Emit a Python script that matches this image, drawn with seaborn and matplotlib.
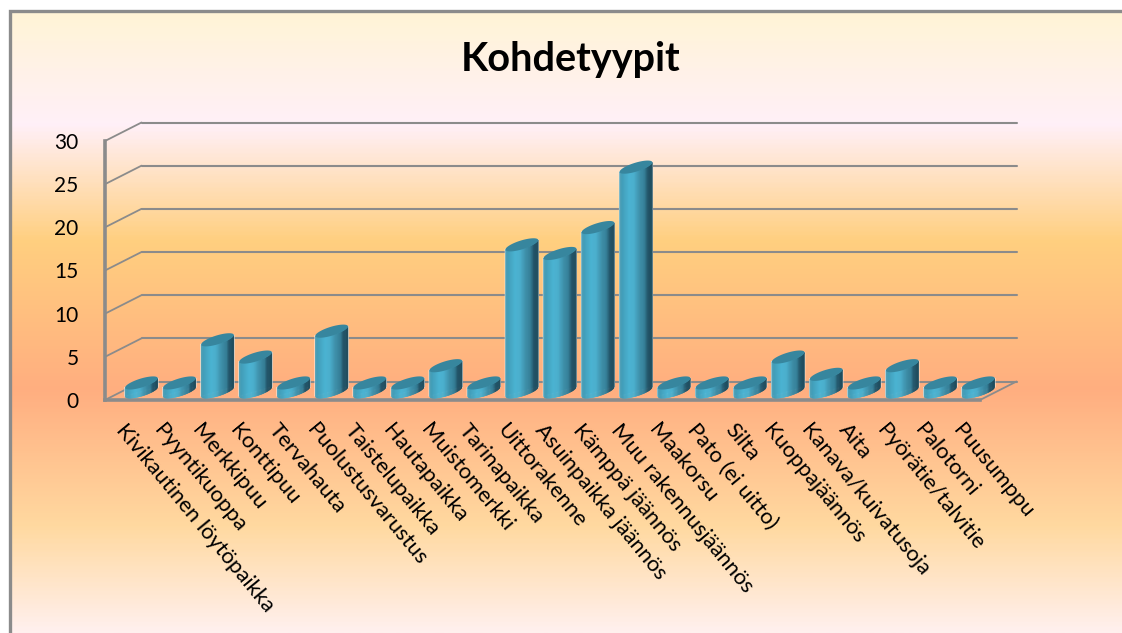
#!/usr/bin/env python3

import matplotlib
matplotlib.use('Agg')
import matplotlib.pyplot as plt
import matplotlib.transforms as mtrans
import numpy as np
import seaborn as sns
from matplotlib.collections import PolyCollection
from matplotlib.colors import LinearSegmentedColormap
from matplotlib.patches import Polygon

CATEGORIES = ['Kivikautinen löytöpaikka', 'Pyyntikuoppa', 'Merkkipuu', 'Konttipuu',
              'Tervahauta', 'Puolustusvarustus', 'Taistelupaikka', 'Hautapaikka',
              'Muistomerkki', 'Tarinapaikka', 'Uittorakenne', 'Asuinpaikka jäännös',
              'Kämppä jäännös', 'Muu rakennusjäännös', 'Maakorsu', 'Pato (ei uitto)',
              'Silta', 'Kuoppajäännös', 'Kanava/kuivatusoja', 'Aita',
              'Pyörätie/talvitie', 'Palotorni', 'Puusumppu']
COUNTS = [1, 1, 6, 4, 1, 7, 1, 1, 3, 1, 17, 16, 19, 26, 1, 1, 1, 4, 2, 1, 3, 1, 1]
YTICKS = [0, 5, 10, 15, 20, 25, 30]
TITLE = 'Kohdetyypit'

W, H = 1122, 633
GREY = '#8b8b8b'
TOP_FACE = '#37869e'

# Pixel sizes of the fake 3D look
DEPTH = (36.5, 18.5)
BAR_SHIFT = (17.4, 8.4)
LENS_RISE = 4.7
LENS_BULGE = 4.6

sns.set_theme(style='white')
plt.rcParams['font.family'] = ['Lato', 'DejaVu Sans']

fig = plt.figure(figsize=(W / 100, H / 100), dpi=100, facecolor='white')

# Background gradient and frame
bg_stops = [(0.0, '#fff4d6'), (0.18, '#fff0f8'), (0.37, '#ffcf7f'), (0.61, '#ffae80'),
            (0.83, '#ffd9a0'), (1.0, '#fff0ee')]
bg_cmap = LinearSegmentedColormap.from_list('bg', bg_stops)
bg = fig.add_axes([0, 0, 1, 1], zorder=0)
bg.imshow(np.linspace(0, 1, 400)[:, None], cmap=bg_cmap, aspect='auto',
          extent=(10, W, H, 11))
bg.plot([10, 10, W], [H, 11, 11], color=GREY, lw=2.4, solid_joinstyle='miter')
bg.set_xlim(0, W)
bg.set_ylim(H, 0)
bg.axis('off')

ax = fig.add_axes([105 / W, (H - 400) / H, 875 / W, 259 / H], zorder=1)
ax.patch.set_alpha(0)

sns.barplot(x=CATEGORIES, y=COUNTS, color='#4bb0ce', width=0.86, saturation=1,
            ax=ax, zorder=4)
ax.set_xlim(-0.5, len(CATEGORIES) - 0.5)
ax.set_ylim(0, 30)
ax.set_yticks(YTICKS)
sns.despine(ax=ax)
for side in ['left', 'bottom']:
    ax.spines[side].set_color(GREY)
    ax.spines[side].set_linewidth(2.6)
ax.tick_params(axis='y', length=0, pad=19, labelsize=15, labelcolor='black')
ax.tick_params(axis='x', length=0, pad=19, labelsize=15.8, labelcolor='black')
plt.setp(ax.get_xticklabels(), rotation=-50.5, ha='left', va='center',
         rotation_mode='anchor')
for label in ax.get_xticklabels():
    label.set_transform(label.get_transform() + mtrans.Affine2D().translate(-4, 0))

# Back wall, side wall and floor edges
back = ax.get_yaxis_transform() + mtrans.Affine2D().translate(*DEPTH)
for y in YTICKS:
    ax.plot([0, 1], [y, y], color=GREY, lw=1.5, transform=back, clip_on=False, zorder=1)
    p0 = ax.get_yaxis_transform().transform((0, y))
    ax.plot([p0[0], p0[0] + DEPTH[0]], [p0[1], p0[1] + DEPTH[1]], color=GREY, lw=1.3,
            transform=mtrans.IdentityTransform(), clip_on=False, zorder=1)
p1 = ax.get_yaxis_transform().transform((1, 0))
ax.plot([p1[0], p1[0] + DEPTH[0]], [p1[1], p1[1] + DEPTH[1]], color=GREY, lw=1.3,
        transform=mtrans.IdentityTransform(), clip_on=False, zorder=1)

# Turn the flat bars into leaning cylinders
cyl_stops = [(0.0, '#55a0b4'), (0.08, '#429db8'), (0.3, '#4bb3d2'), (0.45, '#4bafcd'),
             (0.62, '#3f90aa'), (0.78, '#357d95'), (0.86, '#24566a'), (1.0, '#1f4a5a')]
cyl_cmap = LinearSegmentedColormap.from_list('cyl', cyl_stops)
fig.canvas.draw()
to_px = ax.transData
t = np.linspace(0, 2 * np.pi, 80)
for bar in ax.patches:
    (x0, y0), (x1, y1) = to_px.transform([(bar.get_x(), 0),
                                          (bar.get_x() + bar.get_width(), bar.get_height())])
    cx = (x0 + x1) / 2 + BAR_SHIFT[0]
    cy = y0 + BAR_SHIFT[1]
    hw = (x1 - x0) / 2
    k = LENS_RISE / hw

    # the flat bar, sheared so it sits inside the cylinder
    shear = mtrans.Affine2D(np.array([[1, 0, BAR_SHIFT[0]],
                                      [k, 1, BAR_SHIFT[1] - k * (cx - BAR_SHIFT[0])],
                                      [0, 0, 1]]))
    bar.set_transform(to_px + shear)
    bar.set_clip_on(False)

    # body as thin upright strips following the lower arc
    u = np.linspace(-1, 1, 41)
    low = cy + LENS_RISE * u - LENS_BULGE * np.sqrt(1 - u ** 2)
    xs = cx + hw * u
    verts = [[(xs[j], low[j]), (xs[j + 1], low[j + 1]),
              (xs[j + 1], low[j + 1] + y1 - y0), (xs[j], low[j] + y1 - y0)]
             for j in range(len(u) - 1)]
    cols = cyl_cmap((u[:-1] + u[1:]) / 4 + 0.5)
    ax.add_collection(PolyCollection(verts, facecolors=cols, edgecolors=cols, linewidths=0.4,
                                     transform=mtrans.IdentityTransform(), clip_on=False,
                                     zorder=5))

    # top face
    lens = np.column_stack([cx + hw * np.cos(t),
                            cy + y1 - y0 + LENS_RISE * np.cos(t) + LENS_BULGE * np.sin(t)])
    ax.add_patch(Polygon(lens, closed=True, facecolor=TOP_FACE, edgecolor='none',
                         transform=mtrans.IdentityTransform(), clip_on=False, zorder=6))

ax.set_xlim(-0.5, len(CATEGORIES) - 0.5)
ax.set_ylim(0, 30)

fig.text(571 / W, 1 - 60 / H, TITLE, ha='center', va='center', fontsize=28.5,
         fontweight='bold', color='black')

plt.savefig('out.png', dpi=100)
